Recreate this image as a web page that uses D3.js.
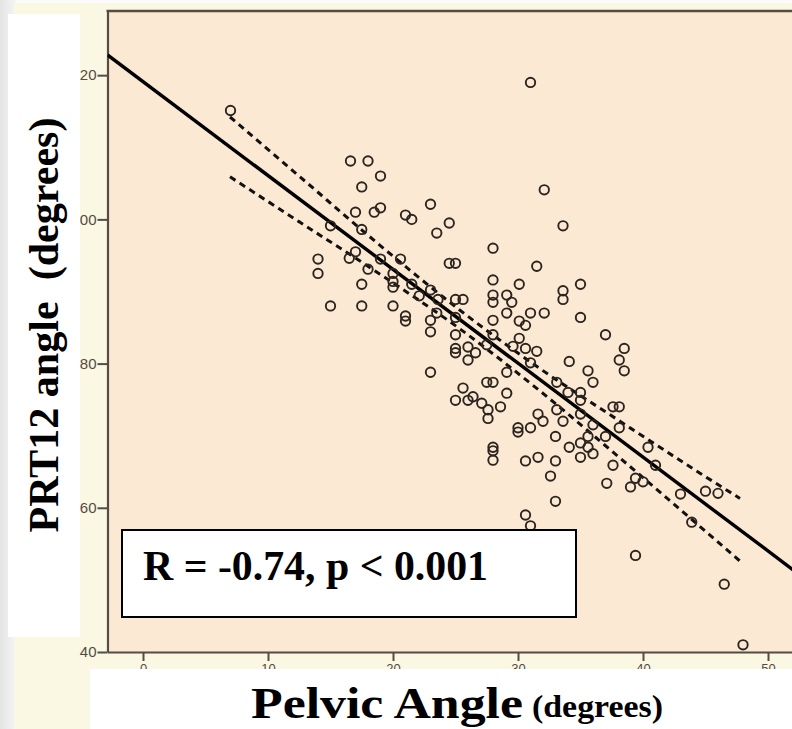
<!DOCTYPE html>
<html>
<head>
<meta charset="utf-8">
<script src="https://cdn.jsdelivr.net/npm/d3@7/dist/d3.min.js"></script>
<style>
  html, body { margin: 0; padding: 0; background: #f6f6f6; }
  svg { display: block; }
</style>
</head>
<body>
<svg id="chart" width="792" height="729"></svg>
<script>
// ---------- data ----------
const pelvicAngle = [
  7.0,16.6,18.0,19.0,17.5,17.0,18.5,19.0,21.0,21.5,23.0,24.5,23.5,15.0,17.5,17.0,16.5,14.0,14.0,18.0,
  19.0,20.6,24.5,25.0,17.5,20.0,20.0,20.0,21.5,22.1,23.0,23.6,25.0,25.6,15.0,17.5,20.0,21.0,21.0,23.0,
  23.5,23.0,25.0,25.0,25.0,26.0,31.0,32.1,33.6,28.0,31.5,28.0,30.1,35.0,28.0,28.0,29.1,29.5,33.6,33.6,
  29.1,31.0,32.1,28.0,30.1,30.6,35.0,37.0,28.0,30.1,29.6,30.6,31.5,38.5,27.5,38.1,38.5,34.1,35.6,36.0,
  31.0,29.1,27.5,28.0,26.6,26.0,25.6,26.4,26.0,27.1,27.6,27.6,28.6,29.1,33.1,34.0,35.0,35.0,35.0,33.1,
  31.6,32.0,33.6,33.0,30.0,30.0,31.0,36.0,35.6,37.0,37.6,38.1,38.1,35.0,35.6,34.1,36.0,35.0,28.0,28.0,
  28.0,30.6,31.6,33.0,32.6,37.1,37.6,39.0,39.4,40.0,40.4,41.0,43.0,43.9,45.0,46.0,33.0,30.6,31.0,39.4,
  46.5,48.0,23.0,25.0,25.0
];
const prt12Angle = [
  115.1,108.1,108.1,106.0,104.5,101.0,101.0,101.6,100.6,100.0,102.1,99.5,98.1,99.1,98.6,95.5,94.6,94.5,92.5,93.1,
  94.5,94.5,93.9,93.9,91.0,92.5,91.4,90.6,91.0,89.4,90.2,88.9,88.9,88.9,88.0,88.0,88.0,86.6,85.9,86.0,
  87.0,84.4,86.4,84.0,82.1,82.3,119.0,104.1,99.1,96.0,93.5,91.6,91.0,91.0,89.5,88.5,89.5,88.5,90.1,88.9,
  87.0,87.0,87.0,86.0,85.9,85.3,86.4,84.0,84.0,83.5,82.4,82.1,81.7,82.1,82.6,80.5,79.0,80.3,79.0,77.4,
  80.1,78.8,77.4,77.4,81.5,80.5,76.6,75.4,74.9,74.5,73.6,72.4,74.0,75.9,77.4,76.0,76.0,74.9,73.0,73.6,
  73.0,72.0,72.0,69.9,71.1,70.5,71.1,71.5,69.9,69.9,74.0,74.0,71.1,69.0,68.4,68.4,67.5,67.0,68.4,67.9,
  66.6,66.5,67.0,66.5,64.4,63.4,65.9,62.9,64.1,63.6,68.4,65.9,61.9,58.0,62.3,62.0,60.9,59.0,57.5,53.4,
  49.4,41.0,78.8,81.5,74.9
];
// fitted line end points
const fitX = [-2.84, 54.0];
const fitY = [122.8, 48.8];
// 95% confidence band of the mean (dashed curves)
const bandX     = [6.96, 12.56, 18.96, 25.36, 31.76, 38.16, 44.56, 47.76];
const bandUpper = [114.2, 105.9, 96.4, 87.4, 79.3, 72.0, 64.8, 61.3];
const bandLower = [105.9, 99.6, 92.4, 84.8, 76.2, 66.9, 57.4, 52.6];
const xTicks = [0, 10, 20, 30, 40, 50];
const yTicks = [40, 60, 80, 100, 120];
const xTitle = "Pelvic Angle";
const xTitleUnit = "(degrees)";
const yTitle = "PRT12 angle  (degrees)";
const statText = "R = -0.74, p < 0.001";

// ---------- layout ----------
const svg = d3.select("#chart");
const W = 792, H = 729;
const plotL = 107.5, plotT = 11, plotB = 652, plotR = 818;

const x = d3.scaleLinear().domain([-2.84, 54]).range([plotL, plotR]);
const y = d3.scaleLinear().domain([40, 128.9]).range([plotB, plotT]);

// background gradient on the far left
const defs = svg.append("defs");
const g1 = defs.append("linearGradient").attr("id", "leftGrad").attr("x1", "0").attr("x2", "1");
g1.append("stop").attr("offset", "0").attr("stop-color", "#e4e4e4");
g1.append("stop").attr("offset", "1").attr("stop-color", "#f5f5f5");
svg.append("rect").attr("x", 0).attr("y", 0).attr("width", W).attr("height", H).attr("fill", "#fbfbfb");
svg.append("rect").attr("x", 0).attr("y", 0).attr("width", 16).attr("height", H).attr("fill", "url(#leftGrad)");

// cream page area
svg.append("rect").attr("x", 14).attr("y", 3).attr("width", W - 14).attr("height", H - 3).attr("fill", "#faf7e2");

// plot area
svg.append("rect").attr("x", plotL).attr("y", plotT).attr("width", plotR - plotL).attr("height", plotB - plotT)
  .attr("fill", "#fbe9d3");

defs.append("clipPath").attr("id", "plotClip").append("rect")
  .attr("x", plotL).attr("y", plotT).attr("width", plotR - plotL).attr("height", plotB - plotT);

const frameColor = "#564c44";

// axes
const yAxis = d3.axisLeft(y).tickValues(yTicks).tickFormat(d3.format("d")).tickSize(10).tickPadding(1).tickSizeOuter(0);
const gy = svg.append("g").attr("transform", `translate(${plotL},0)`).call(yAxis);
gy.select(".domain").attr("stroke", frameColor).attr("stroke-width", 2.2);
gy.selectAll(".tick line").attr("stroke", frameColor).attr("stroke-width", 2);
gy.selectAll(".tick text").attr("fill", "#554b43").attr("font-family", "Arial, 'Liberation Sans', sans-serif")
  .attr("font-size", 15);

const xAxis = d3.axisBottom(x).tickValues(xTicks).tickFormat(d3.format("d")).tickSize(9).tickPadding(3).tickSizeOuter(0);
const gx = svg.append("g").attr("transform", `translate(0,${plotB})`).call(xAxis);
gx.select(".domain").attr("stroke", frameColor).attr("stroke-width", 2.2);
gx.selectAll(".tick line").attr("stroke", frameColor).attr("stroke-width", 2);
gx.selectAll(".tick text").attr("fill", "#554b43").attr("font-family", "Arial, 'Liberation Sans', sans-serif")
  .attr("font-size", 13);

// top frame line
svg.append("line").attr("x1", plotL - 1).attr("x2", plotR).attr("y1", plotT).attr("y2", plotT)
  .attr("stroke", frameColor).attr("stroke-width", 2.5);

// lines (clipped)
const plotG = svg.append("g").attr("clip-path", "url(#plotClip)");
const fitData = fitX.map((d, i) => [d, fitY[i]]);
const lineGen = d3.line().x(d => x(d[0])).y(d => y(d[1]));
const curveGen = d3.line().x(d => x(d[0])).y(d => y(d[1])).curve(d3.curveMonotoneX);

plotG.append("path").datum(fitData).attr("d", lineGen)
  .attr("fill", "none").attr("stroke", "#000").attr("stroke-width", 3.4);

plotG.append("path").datum(bandX.map((d, i) => [d, bandUpper[i]])).attr("d", curveGen)
  .attr("fill", "none").attr("stroke", "#111").attr("stroke-width", 3).attr("stroke-dasharray", "6.5,5");
plotG.append("path").datum(bandX.map((d, i) => [d, bandLower[i]])).attr("d", curveGen)
  .attr("fill", "none").attr("stroke", "#111").attr("stroke-width", 3).attr("stroke-dasharray", "6.5,5");

// points
const pts = pelvicAngle.map((d, i) => ({ px: d, py: prt12Angle[i] }));
plotG.selectAll("circle.pt").data(pts).enter().append("circle").attr("class", "pt")
  .attr("cx", d => x(d.px)).attr("cy", d => y(d.py)).attr("r", 4.7)
  .attr("fill", "none").attr("stroke", "#2b241f").attr("stroke-width", 1.9);

// statistics box
svg.append("rect").attr("x", 122).attr("y", 530).attr("width", 454).attr("height", 87)
  .attr("fill", "#fff").attr("stroke", "#000").attr("stroke-width", 2);
svg.append("text").attr("x", 143).attr("y", 580)
  .attr("font-family", "'Liberation Serif', 'Times New Roman', serif").attr("font-weight", "bold")
  .attr("font-size", 42).attr("textLength", 345).attr("lengthAdjust", "spacingAndGlyphs")
  .attr("fill", "#000").text(statText);

// white panel behind y title
svg.append("rect").attr("x", 8).attr("y", 14).attr("width", 72).attr("height", 623).attr("fill", "#fff");
svg.append("text").attr("transform", "translate(58,325) rotate(-90)")
  .attr("text-anchor", "middle").style("white-space", "pre")
  .attr("font-family", "'Liberation Serif', 'Times New Roman', serif").attr("font-weight", "bold")
  .attr("font-size", 42).attr("textLength", 415).attr("lengthAdjust", "spacingAndGlyphs")
  .attr("fill", "#000").text(yTitle);

// white panel behind x title
svg.append("rect").attr("x", 90).attr("y", 669).attr("width", W - 90).attr("height", H - 669).attr("fill", "#fff");
svg.append("text").attr("x", 251).attr("y", 718)
  .attr("font-family", "'Liberation Serif', 'Times New Roman', serif").attr("font-weight", "bold")
  .attr("font-size", 44).attr("textLength", 272).attr("lengthAdjust", "spacingAndGlyphs")
  .attr("fill", "#000").text(xTitle);
svg.append("text").attr("x", 532).attr("y", 717)
  .attr("font-family", "'Liberation Serif', 'Times New Roman', serif").attr("font-weight", "bold")
  .attr("font-size", 32).attr("textLength", 131).attr("lengthAdjust", "spacingAndGlyphs")
  .attr("fill", "#000").text(xTitleUnit);
</script>
</body>
</html>
